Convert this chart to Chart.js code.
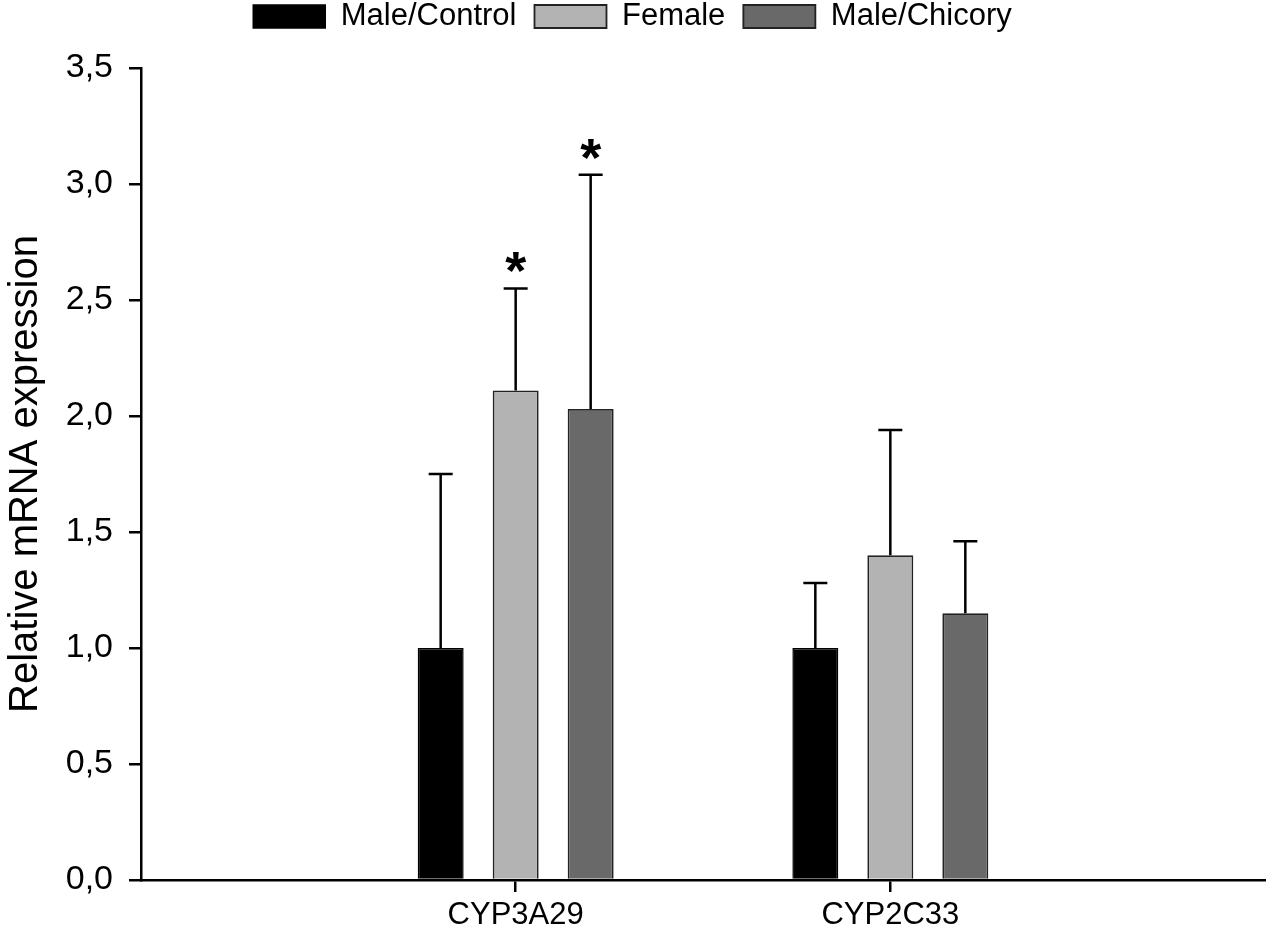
<!DOCTYPE html>
<html>
<head>
<meta charset="utf-8">
<script src="https://cdn.jsdelivr.net/npm/chart.js@4.4.0/dist/chart.umd.min.js"></script>
<style>
  html, body { margin: 0; padding: 0; background: #fff; }
</style>
</head>
<body>
<canvas id="bars" width="1266" height="944"></canvas>
<script>
var genes = ['CYP3A29', 'CYP2C33'];
var yTicks = [0, 0.5, 1, 1.5, 2, 2.5, 3, 3.5];

var maleControl = [1.0, 1.0];
var female = [2.11, 1.40];
var maleChicory = [2.03, 1.15];

// top of the error bar (mean + SD)
var maleControlErr = [1.75, 1.28];
var femaleErr = [2.55, 1.94];
var maleChicoryErr = [3.04, 1.46];

// significance marks
var maleControlStar = [false, false];
var femaleStar = [true, false];
var maleChicoryStar = [true, false];

// empty slots at both ends so the groups sit at 1/3 and 2/3 of the axis
function pad(arr) {
    return [null].concat(arr, [null]);
}

var FONT = '"Liberation Sans", Arial, sans-serif';

var errorBars = {
    id: 'errorBars',
    afterDatasetsDraw: function(chart) {
        var ctx = chart.ctx;
        var yScale = chart.scales.y;
        chart.data.datasets.forEach(function(ds, di) {
            var meta = chart.getDatasetMeta(di);
            meta.data.forEach(function(bar, i) {
                var top = ds.errTop[i];
                if (top == null) return;
                var yTop = yScale.getPixelForValue(top);
                ctx.save();
                ctx.strokeStyle = '#000';
                ctx.lineWidth = 2.5;
                ctx.beginPath();
                ctx.moveTo(bar.x, bar.y);
                ctx.lineTo(bar.x, yTop);
                ctx.moveTo(bar.x - 12, yTop);
                ctx.lineTo(bar.x + 12, yTop);
                ctx.stroke();
                if (ds.star[i]) {
                    ctx.fillStyle = '#000';
                    ctx.font = 'bold 54px ' + FONT;
                    ctx.textAlign = 'center';
                    ctx.textBaseline = 'alphabetic';
                    ctx.fillText('*', bar.x, yTop + 1);
                }
                ctx.restore();
            });
        });
    }
};

var legendHeight = {
    id: 'legendHeight',
    beforeInit: function(chart) {
        var fit = chart.legend.fit;
        chart.legend.fit = function() {
            fit.bind(chart.legend)();
            this.height = 85;
        };
    }
};

var config = {
    type: 'bar',
    data: {
        labels: pad(genes),
        datasets: [{
            label: 'Male/Control',
            data: pad(maleControl),
            errTop: pad(maleControlErr),
            star: pad(maleControlStar),
            backgroundColor: '#000000',
            borderColor: '#000000',
            borderWidth: 1.5
        }, {
            label: 'Female',
            data: pad(female),
            errTop: pad(femaleErr),
            star: pad(femaleStar),
            backgroundColor: '#b3b3b3',
            borderColor: '#222222',
            borderWidth: 1.8
        }, {
            label: 'Male/Chicory',
            data: pad(maleChicory),
            errTop: pad(maleChicoryErr),
            star: pad(maleChicoryStar),
            backgroundColor: '#696969',
            borderColor: '#222222',
            borderWidth: 1.8
        }]
    },
    options: {
        responsive: false,
        animation: false,
        devicePixelRatio: 1,
        categoryPercentage: 0.6005,
        barPercentage: 0.613,
        layout: {
            padding: { top: -17, right: 1, bottom: 0, left: 0 }
        },
        plugins: {
            legend: {
                position: 'top',
                labels: {
                    boxWidth: 72,
                    boxHeight: 23,
                    padding: 18,
                    color: '#000',
                    font: { family: FONT, size: 31 }
                }
            },
            tooltip: { enabled: false }
        },
        scales: {
            x: {
                type: 'category',
                offset: false,
                grid: {
                    offset: false,
                    drawOnChartArea: false,
                    drawTicks: true,
                    tickLength: 12,
                    lineWidth: 2.5,
                    tickColor: function(c) {
                        return (c.tick && c.tick.label) ? '#000' : 'rgba(0,0,0,0)';
                    }
                },
                border: { color: '#000', width: 2.5 },
                ticks: {
                    color: '#000',
                    padding: 5,
                    maxRotation: 0,
                    autoSkip: false,
                    font: { family: FONT, size: 31 }
                },
                afterFit: function(scale) {
                    scale.height = 64;
                }
            },
            y: {
                min: 0,
                max: 3.5,
                grid: {
                    drawOnChartArea: false,
                    drawTicks: true,
                    tickLength: 12,
                    lineWidth: 2.5,
                    tickColor: '#000'
                },
                border: { color: '#000', width: 2.5 },
                ticks: {
                    color: '#000',
                    padding: 16,
                    font: { family: FONT, size: 34 },
                    callback: function(v) {
                        return v.toFixed(1).replace('.', ',');
                    }
                },
                afterBuildTicks: function(scale) {
                    scale.ticks = yTicks.map(function(v) { return { value: v }; });
                },
                title: {
                    display: true,
                    text: 'Relative mRNA expression',
                    color: '#000',
                    padding: { top: 2, bottom: 0 },
                    font: { family: FONT, size: 40 }
                },
                afterFit: function(scale) {
                    scale.width = 141;
                }
            }
        }
    },
    plugins: [errorBars, legendHeight]
};

window.myBars = new Chart(document.getElementById('bars'), config);
</script>
</body>
</html>
